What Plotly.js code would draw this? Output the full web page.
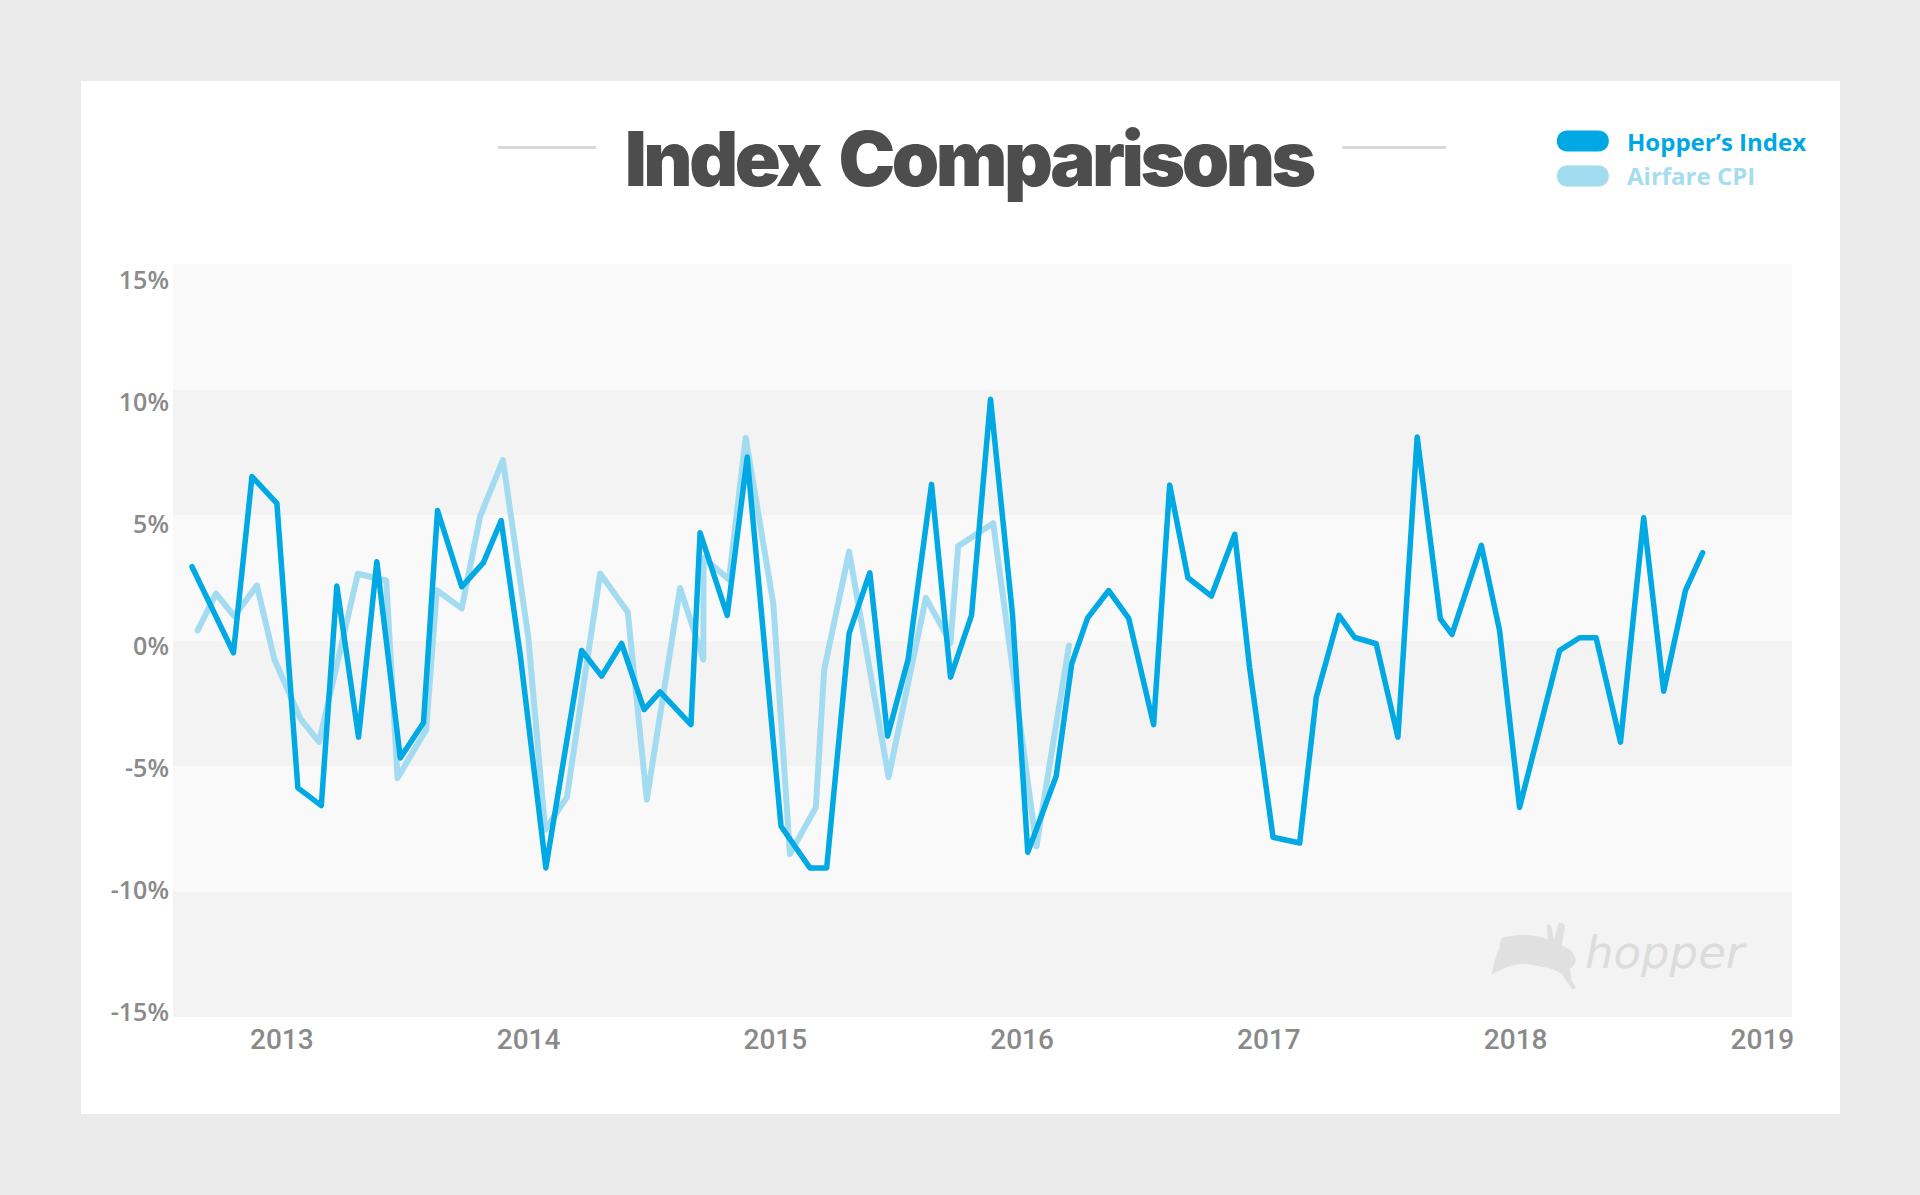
<!DOCTYPE html>
<html>
<head>
<meta charset="utf-8">
<script src="https://cdn.plot.ly/plotly-3.0.1.min.js"></script>
<style>
html, body { margin: 0; padding: 0; background: #ebebeb; width: 1920px; height: 1195px; overflow: hidden; }
#card { position: absolute; left: 81px; top: 81px; width: 1759px; height: 1033px; background: #ffffff; }
.scatterlayer .js-line { stroke-linejoin: round; stroke-linecap: round; }
.annotation[data-index="0"] .annotation-text { letter-spacing: -3.5px; word-spacing: 8px; }
</style>
</head>
<body>
<div id="card"></div>
<script>
// ---- data (decimal years, percent) ----
const hopperX = [2012.636, 2012.804, 2012.879, 2012.980, 2013.065, 2013.160, 2013.223, 2013.311, 2013.385, 2013.480,
  2013.574, 2013.631, 2013.729, 2013.817, 2013.889, 2013.966, 2014.070, 2014.215, 2014.296, 2014.377,
  2014.468, 2014.533, 2014.658, 2014.695, 2014.805, 2014.886, 2015.023, 2015.140, 2015.208, 2015.299,
  2015.383, 2015.455, 2015.538, 2015.633, 2015.710, 2015.795, 2015.872, 2015.961, 2016.023, 2016.138,
  2016.201, 2016.265, 2016.351, 2016.432, 2016.533, 2016.598, 2016.672, 2016.767, 2016.862, 2016.922,
  2017.017, 2017.125, 2017.192, 2017.284, 2017.348, 2017.435, 2017.523, 2017.601, 2017.695, 2017.742,
  2017.861, 2017.935, 2018.016, 2018.178, 2018.259, 2018.326, 2018.425, 2018.519, 2018.600, 2018.688, 2018.758];
const hopperY = [2.94, -0.49, 6.53, 5.46, -5.87, -6.58, 2.17, -3.85, 3.14, -4.68,
  -3.28, 5.18, 2.14, 3.10, 4.78, -0.56, -9.06, -0.40, -1.42, -0.12,
  -2.75, -2.05, -3.35, 4.29, 1.00, 7.31, -7.40, -9.06, -9.06, 0.28,
  2.70, -3.81, -0.76, 6.22, -1.46, 1.00, 9.61, 1.04, -8.44, -5.41,
  -0.93, 0.89, 1.99, 0.88, -3.35, 6.19, 2.50, 1.77, 4.23, -1.09,
  -7.84, -8.07, -2.26, 1.00, 0.12, -0.13, -3.85, 8.11, 0.86, 0.24,
  3.79, 0.40, -6.65, -0.40, 0.11, 0.11, -4.05, 4.89, -2.02, 1.99, 3.50];
const cpiX = [2012.659, 2012.733, 2012.807, 2012.899, 2012.970, 2013.075, 2013.151, 2013.308, 2013.423, 2013.469,
  2013.585, 2013.628, 2013.729, 2013.804, 2013.896, 2013.999, 2014.067, 2014.155, 2014.290, 2014.402,
  2014.479, 2014.614, 2014.708, 2014.709, 2014.812, 2014.880, 2014.992, 2015.059, 2015.164, 2015.198,
  2015.299, 2015.459, 2015.610, 2015.710, 2015.741, 2015.883, 2016.058, 2016.190];
const cpiY = [0.40, 1.87, 0.97, 2.19, -0.76, -3.11, -4.04, 2.66, 2.39, -5.48,
  -3.55, 2.00, 1.28, 4.96, 7.19, 0.11, -7.54, -6.25, 2.67, 1.13,
  -6.34, 2.09, -0.76, 3.30, 2.43, 8.08, 1.44, -8.51, -6.65, -1.16,
  3.54, -5.45, 1.70, -0.09, 3.76, 4.67, -8.20, -0.20];

const seriesNames = ['Hopper\u2019s Index', 'Airfare CPI'];
const yTickVals = [-15, -10, -5, 0, 5, 10, 15];
const yTickText = ['-15%', '-10%', '-5%', '0%', '5%', '10%', '15%'];
const xTickVals = [2013, 2014, 2015, 2016, 2017, 2018, 2019];
const xTickText = ['2013', '2014', '2015', '2016', '2017', '2018', '2019'];
const chartTitle = 'Index Comparisons';
const watermark = 'hopper';

// ---- styles ----
const HOPPER = '#00a9e4';
const CPI = '#a3dcf1';
const LABEL = '#8a8a8a';

const traces = [
  { x: cpiX, y: cpiY, type: 'scatter', mode: 'lines', name: seriesNames[1],
    line: { color: CPI, width: 6 }, hoverinfo: 'skip' },
  { x: hopperX, y: hopperY, type: 'scatter', mode: 'lines', name: seriesNames[0],
    line: { color: HOPPER, width: 5.5 }, hoverinfo: 'skip' },
  { x: [], y: [], type: 'scatter', mode: 'lines', yaxis: 'y2', showlegend: false, hoverinfo: 'skip' }
];

const shapes = [];
for (let i = 0; i < yTickVals.length - 1; i++) {
  shapes.push({ type: 'rect', xref: 'paper', yref: 'y', x0: 0, x1: 1,
    y0: yTickVals[i], y1: yTickVals[i + 1], layer: 'below',
    fillcolor: (i % 2 === 0) ? '#f3f3f3' : '#f9f9f9', line: { width: 0 } });
}
// decorative rules beside title
shapes.push({ type: 'line', xref: 'paper', yref: 'paper', x0: 0.2007, x1: 0.2613, y0: 1.1547, y1: 1.1547,
  line: { color: '#d9d9d9', width: 3 } });
shapes.push({ type: 'line', xref: 'paper', yref: 'paper', x0: 0.7221, x1: 0.7863, y0: 1.1547, y1: 1.1547,
  line: { color: '#d9d9d9', width: 3 } });
// legend pills
const pill = 'M -15.5,-10.5 L 15.5,-10.5 C 29.5,-10.5 29.5,10.5 15.5,10.5 L -15.5,10.5 C -29.5,10.5 -29.5,-10.5 -15.5,-10.5 Z';
shapes.push({ type: 'path', xref: 'paper', yref: 'paper', xsizemode: 'pixel', ysizemode: 'pixel',
  xanchor: 0.8708, yanchor: 1.1633, path: pill, fillcolor: HOPPER, line: { width: 0 } });
shapes.push({ type: 'path', xref: 'paper', yref: 'paper', xsizemode: 'pixel', ysizemode: 'pixel',
  xanchor: 0.8708, yanchor: 1.1169, path: pill, fillcolor: CPI, line: { width: 0 } });
// watermark rabbit
shapes.push({ type: 'path', xref: 'paper', yref: 'paper', xsizemode: 'pixel', ysizemode: 'pixel',
  xanchor: 0.8400, yanchor: 0.0817, layer: 'below',
  path: 'M -41.3,-17.7 C -38,-5 -36,3 -33,8.3 C -33,16 -31,19 -27,19 L -23.7,19 C -15,21 0,21 10.3,17.7 L 14.7,15.7 L 13.7,30 C 14,32 18,31 18.7,28.3 L 21,15 L 25.3,31.7 C 27,34 32,32 32,28.3 L 28.7,10 C 34,8 39,5 40.3,1.7 L 43,-4.3 C 42,-9 40,-12 37,-13.3 L 38.7,-25 L 43,-32.3 C 42,-34 40,-34 38.7,-33.3 L 28.7,-18.3 C 22,-14 16,-12 10.3,-11.7 C 3,-10 -4,-9 -9.7,-8.3 C -16,-9 -22,-10 -26.3,-11.7 C -32,-14 -37,-17 -41.3,-19 Z',
  fillcolor: '#e0e0e0', line: { width: 0 } });

const annotations = [
  { text: chartTitle, xref: 'paper', yref: 'paper', x: 0.4917, y: 1.141, xanchor: 'center', yanchor: 'middle',
    showarrow: false, font: { family: 'Inter, Lato, sans-serif', size: 76, weight: 900, color: '#4d4d4d' } },
  { text: seriesNames[0], xref: 'paper', yref: 'paper', x: 0.897, y: 1.1624, xanchor: 'left', yanchor: 'middle',
    showarrow: false, font: { family: 'Open Sans', size: 24, weight: 700, color: '#00a8e3' } },
  { text: seriesNames[1], xref: 'paper', yref: 'paper', x: 0.897, y: 1.1169, xanchor: 'left', yanchor: 'middle',
    showarrow: false, font: { family: 'Open Sans', size: 24, weight: 700, color: '#a6dcf0' } },
  { text: watermark, xref: 'paper', yref: 'paper', x: 0.9222, y: 0.0857, xanchor: 'center', yanchor: 'middle',
    showarrow: false, font: { family: 'DejaVu Sans', size: 45, style: 'italic', color: '#dcdcdc' } }
];

const layout = {
  width: 1759, height: 1033,
  margin: { l: 92, r: 48, t: 183, b: 97, pad: 0 },
  paper_bgcolor: '#ffffff',
  plot_bgcolor: 'rgba(0,0,0,0)',
  showlegend: false,
  xaxis: { range: [2012.559, 2019.12], tickvals: xTickVals, ticktext: xTickText,
    showgrid: false, zeroline: false, showline: false, ticks: '',
    tickfont: { family: 'Roboto, Liberation Sans, sans-serif', size: 28, weight: 500, color: LABEL }, ticklabelstandoff: 3 },
  yaxis: { range: [-15, 15], showticklabels: false, showgrid: false, zeroline: false, showline: false, ticks: '' },
  yaxis2: { overlaying: 'y', anchor: 'x', side: 'left', range: [-15.19, 15.662],
    tickvals: yTickVals, ticktext: yTickText, showgrid: false, zeroline: false, showline: false, ticks: '',
    tickfont: { family: 'Open Sans', size: 25, weight: 600, color: LABEL }, ticklabelstandoff: 3 },
  shapes: shapes,
  annotations: annotations
};

Plotly.newPlot('card', traces, layout, { staticPlot: true, displayModeBar: false });
</script>
</body>
</html>
